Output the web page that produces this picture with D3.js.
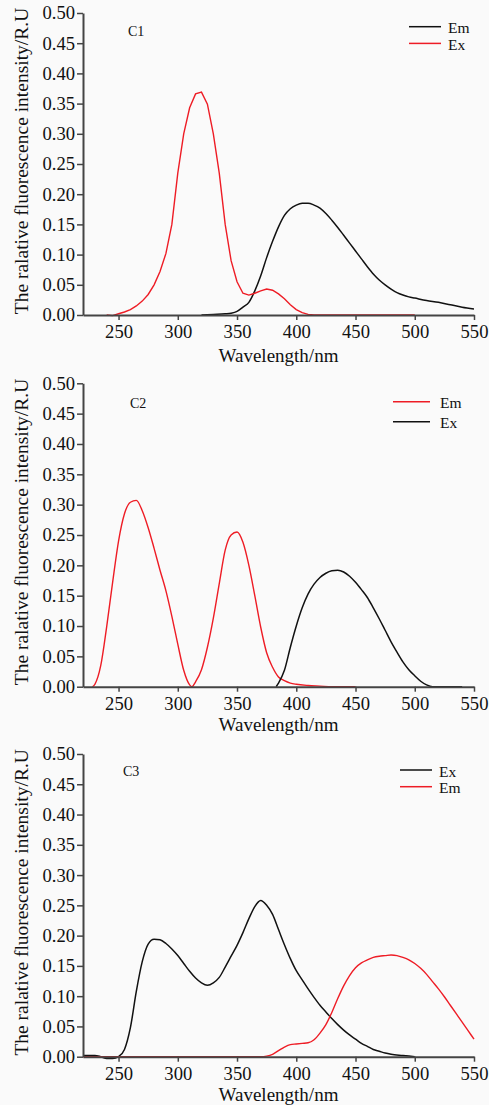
<!DOCTYPE html>
<html><head><meta charset="utf-8">
<script src="https://cdn.jsdelivr.net/npm/d3@7"></script>
<style>body{margin:0;background:#fff}svg{display:block}</style>
</head><body>
<script>
// ---------- DATA ----------
const xTicks = [250, 300, 350, 400, 450, 500, 550];
const yTicks = [0, 0.05, 0.10, 0.15, 0.20, 0.25, 0.30, 0.35, 0.40, 0.45, 0.50];
const xLabel = "Wavelength/nm";
const yLabel = "The ralative fluorescence intensity/R.U";
const panelNames = ["C1", "C2", "C3"];

// C1
const c1EmWl  = [320,330,340,345,350,355,360,365,370,375,380,385,390,395,400,405,410,415,420,425,430,435,440,445,450,455,460,465,470,475,480,485,490,495,500,510,520,530,540,550];
const c1EmVal = [0.000,0.001,0.002,0.003,0.006,0.013,0.021,0.040,0.065,0.095,0.122,0.146,0.165,0.176,0.182,0.185,0.185,0.182,0.177,0.168,0.157,0.145,0.132,0.119,0.106,0.093,0.080,0.068,0.058,0.050,0.043,0.037,0.033,0.030,0.028,0.024,0.021,0.017,0.013,0.010];
const c1ExWl  = [240,245,250,255,260,265,270,275,280,285,290,295,300,305,310,315,320,325,330,335,340,345,350,355,360,365,370,375,380,385,390,395,400,405,410,415,450,500];
const c1ExVal = [0.000,-0.001,0.002,0.005,0.009,0.015,0.023,0.034,0.050,0.072,0.102,0.150,0.235,0.300,0.343,0.366,0.369,0.349,0.300,0.235,0.150,0.090,0.055,0.036,0.033,0.036,0.040,0.043,0.041,0.035,0.027,0.017,0.009,0.004,0.001,0.000,0.000,0.000];

// C2
const c2EmWl  = [228,230,235,240,245,250,255,260,265,270,275,280,285,290,295,300,305,310,312,315,320,325,330,335,340,345,350,355,360,365,370,375,380,385,390,395,400,410,420,430,450];
const c2EmVal = [0.000,0.004,0.035,0.099,0.172,0.240,0.285,0.304,0.307,0.290,0.262,0.228,0.192,0.158,0.116,0.070,0.027,0.003,0.000,0.008,0.028,0.065,0.113,0.170,0.225,0.250,0.255,0.238,0.200,0.150,0.098,0.056,0.032,0.016,0.010,0.006,0.004,0.002,0.001,0.000,0.000];
const c2ExWl  = [383,385,390,395,400,405,410,415,420,425,430,435,440,445,450,455,460,465,470,475,480,485,490,495,500,505,510,515,540];
const c2ExVal = [0.000,0.006,0.027,0.065,0.100,0.130,0.153,0.169,0.180,0.187,0.191,0.192,0.189,0.182,0.172,0.160,0.147,0.130,0.112,0.093,0.074,0.057,0.041,0.028,0.018,0.009,0.003,0.000,0.000];

// C3
const c3ExWl  = [220,225,230,235,240,245,250,255,260,265,270,275,280,285,290,295,300,305,310,315,320,325,330,335,340,345,350,355,360,365,370,375,380,385,390,395,400,405,410,415,420,425,430,435,440,445,450,455,460,465,470,475,480,490,500];
const c3ExVal = [0.002,0.002,0.002,0.000,-0.003,-0.003,0.000,0.012,0.048,0.108,0.157,0.186,0.194,0.193,0.187,0.178,0.167,0.154,0.141,0.130,0.122,0.118,0.122,0.131,0.148,0.166,0.184,0.205,0.228,0.248,0.258,0.250,0.235,0.210,0.185,0.162,0.142,0.127,0.112,0.098,0.085,0.074,0.063,0.053,0.044,0.036,0.029,0.022,0.017,0.012,0.009,0.006,0.004,0.002,0.000];
const c3EmWl  = [220,250,300,350,370,375,380,385,390,395,400,405,410,415,420,425,430,435,440,445,450,455,460,465,470,475,480,485,490,495,500,505,510,515,520,525,530,535,540,545,550];
const c3EmVal = [0.000,0.000,0.000,0.000,0.000,0.001,0.004,0.010,0.016,0.020,0.021,0.022,0.023,0.028,0.039,0.053,0.073,0.096,0.117,0.134,0.147,0.155,0.160,0.164,0.166,0.167,0.168,0.167,0.164,0.160,0.154,0.146,0.136,0.124,0.112,0.099,0.085,0.071,0.057,0.043,0.029];

// ---------- DRAW ----------
const W = 497, H = 1105;
const BLACK = "#111", RED = "#ee1c25", AXIS = "#444";
const FONT = "'Liberation Serif','Times New Roman',serif";

const svg = d3.select("body").append("svg").attr("width", W).attr("height", H);
svg.append("rect").attr("width", W).attr("height", H).attr("fill", "#fff");
svg.append("rect").attr("width", 489).attr("height", H).attr("fill", "#fafafa");

const panels = [
  { name: panelNames[0], top: 13, bottom: 315, titleDy: 46.5,
    series: [{label:"Em", wl:c1EmWl, v:c1EmVal, color:BLACK, curve:d3.curveMonotoneX},
             {label:"Ex", wl:c1ExWl, v:c1ExVal, color:RED, curve:d3.curveLinear}],
    legend: {x1:409, x2:441, y:26.7, dy:16.7, tx:448},
    cLabel: {x:128, y:36} },
  { name: panelNames[1], top: 383.3, bottom: 686.7, titleDy: 44,
    series: [{label:"Em", wl:c2EmWl, v:c2EmVal, color:RED, curve:d3.curveMonotoneX},
             {label:"Ex", wl:c2ExWl, v:c2ExVal, color:BLACK, curve:d3.curveMonotoneX}],
    legend: {x1:393, x2:430, y:401.7, dy:20, tx:440},
    cLabel: {x:130, y:408} },
  { name: panelNames[2], top: 754, bottom: 1056.7, titleDy: 43.8,
    series: [{label:"Ex", wl:c3ExWl, v:c3ExVal, color:BLACK, curve:d3.curveMonotoneX},
             {label:"Em", wl:c3EmWl, v:c3EmVal, color:RED, curve:d3.curveMonotoneX}],
    legend: {x1:400, x2:432, y:770, dy:16.7, tx:439},
    cLabel: {x:123, y:776} }
];

const x = d3.scaleLinear().domain([220, 550]).range([83, 474]);

panels.forEach(p => {
  const y = d3.scaleLinear().domain([0, 0.5]).range([p.bottom, p.top]);
  const g = svg.append("g");

  p.series.forEach(s => {
    const pts = s.wl.map((w, i) => [w, s.v[i]]);
    g.append("path").datum(pts)
      .attr("fill", "none").attr("stroke", s.color)
      .attr("stroke-width", s.color === RED ? 1.4 : 1.5)
      .attr("d", d3.line().x(d => x(d[0])).y(d => y(d[1])).curve(s.curve));
  });

  const ya = g.append("g").attr("transform", `translate(${x(220)},0)`)
    .call(d3.axisLeft(y).tickValues(yTicks).tickFormat(d3.format(".2f")).tickSize(6).tickPadding(2).tickSizeOuter(0));
  const xa = g.append("g").attr("transform", `translate(0,${p.bottom})`)
    .call(d3.axisBottom(x).tickValues(xTicks).tickFormat(d3.format("d")).tickSize(5).tickPadding(5).tickSizeOuter(0));
  [ya, xa].forEach(a => {
    a.select(".domain").attr("stroke", AXIS).attr("stroke-width", 2);
    a.selectAll(".tick line").attr("stroke", AXIS).attr("stroke-width", 1.5);
    a.selectAll("text").attr("fill", "#111").style("font-family", FONT).style("font-size", "18.6px");
  });

  g.append("text").attr("x", (x.range()[0] + x.range()[1]) / 2).attr("y", p.bottom + p.titleDy)
    .attr("text-anchor", "middle").style("font-family", FONT).style("font-size", "19px").attr("fill", "#111")
    .text(xLabel);
  g.append("text").attr("transform", `translate(28,${(p.top + p.bottom) / 2 - 3}) rotate(-90)`)
    .attr("text-anchor", "middle").style("font-family", FONT).style("font-size", "19.5px").attr("fill", "#111")
    .text(yLabel);

  g.append("text").attr("x", p.cLabel.x).attr("y", p.cLabel.y)
    .style("font-family", FONT).style("font-size", "14px").attr("fill", "#111").text(p.name);

  p.series.forEach((s, i) => {
    const ly = p.legend.y + i * p.legend.dy;
    g.append("line").attr("x1", p.legend.x1).attr("x2", p.legend.x2).attr("y1", ly).attr("y2", ly)
      .attr("stroke", s.color).attr("stroke-width", 1.5);
    g.append("text").attr("x", p.legend.tx).attr("y", ly + 6.5)
      .style("font-family", FONT).style("font-size", "15.5px").attr("fill", "#111").text(s.label);
  });
});
</script>
</body></html>
